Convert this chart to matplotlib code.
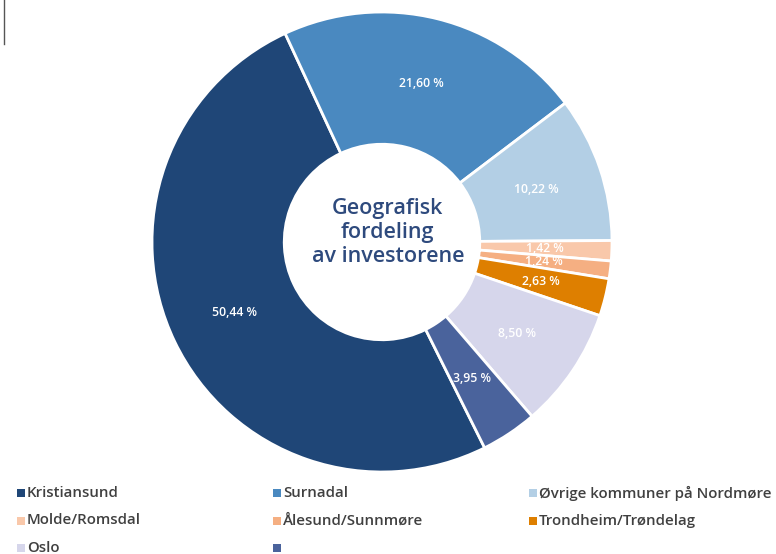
import matplotlib.pyplot as plt
from matplotlib.patches import Rectangle

categories = ["Kristiansund", "Surnadal", "Øvrige kommuner på Nordmøre",
              "Molde/Romsdal", "Ålesund/Sunnmøre", "Trondheim/Trøndelag",
              "Oslo", ""]
shares = [50.44, 21.60, 10.22, 1.42, 1.24, 2.63, 8.50, 3.95]
colors = ["#1F4677", "#4A89C0", "#B3CFE5", "#F9C8AA",
          "#F5AF82", "#DE7F00", "#D6D6EB", "#4A639C"]

TITLE = "Geografisk\nfordeling\nav investorene"
TITLE_COLOR = "#2E4A7D"
LEGEND_COLOR = "#404040"

fig = plt.figure(figsize=(7.76, 5.54), dpi=100)
# donut centred at about (382, 242) px with radius 230 px
ax = fig.add_axes([(382 - 230) / 776, (554 - 472) / 554, 460 / 776, 460 / 554])

wedges, texts = ax.pie(
    shares, colors=colors, startangle=-63.5, counterclock=False,
    radius=1.0, wedgeprops=dict(width=0.575, edgecolor="white", linewidth=2),
    labels=[f"{v:.2f} %".replace(".", ",") for v in shares],
    labeldistance=0.71,
    textprops=dict(color="white", fontsize=8.8, family="Open Sans",
                   fontweight="semibold", ha="center", va="center"),
)
ax.set_xlim(-1.0, 1.0)
ax.set_ylim(-1.0, 1.0)
ax.set_aspect("equal")

ax.text(0.025, 0.04, TITLE, ha="center", va="center", fontsize=15.5,
        color=TITLE_COLOR, family="Open Sans", fontweight="semibold",
        linespacing=1.2)

# Legend, three columns laid out in rows
for i, (name, col) in enumerate(zip(categories, colors)):
    c, r = i % 3, i // 3
    x = 17 + c * 256
    y = 493 + r * 27.5
    fig.patches.append(Rectangle((x / 776, 1 - (y + 4) / 554), 8 / 776, 8 / 554,
                                 transform=fig.transFigure, facecolor=col,
                                 edgecolor="none"))
    fig.text((x + 10) / 776, 1 - y / 554, name, ha="left", va="center",
             fontsize=10.8, color=LEGEND_COLOR, family="Open Sans",
             fontweight="semibold")

# Thin mark at the top left corner
fig.add_artist(plt.Line2D([4 / 776, 4 / 776], [1, 1 - 44 / 554],
                          transform=fig.transFigure, color="#555555", linewidth=1))

fig.savefig("out.png", dpi=100)
